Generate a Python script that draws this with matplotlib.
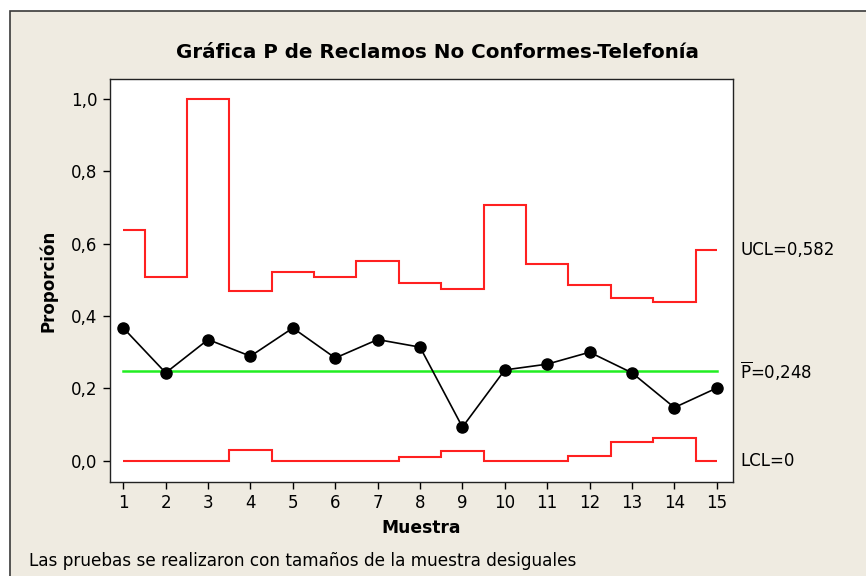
import matplotlib
matplotlib.use("Agg")
import matplotlib.pyplot as plt
from matplotlib.patches import Rectangle
import numpy as np

# ---- data ----
muestras = list(range(1, 16))
proporcion = [0.367, 0.243, 0.335, 0.289, 0.367, 0.284, 0.335, 0.314,
              0.093, 0.251, 0.267, 0.300, 0.243, 0.147, 0.201]
ucl = [0.639, 0.507, 1.000, 0.470, 0.523, 0.507, 0.553, 0.490,
       0.474, 0.706, 0.545, 0.486, 0.449, 0.438, 0.582]
lcl = [0.000, 0.000, 0.000, 0.030, 0.000, 0.000, 0.000, 0.009,
       0.026, 0.000, 0.000, 0.014, 0.051, 0.063, 0.000]
p_bar = 0.248
yticks = [0.0, 0.2, 0.4, 0.6, 0.8, 1.0]
title = "Gráfica P de Reclamos No Conformes-Telefonía"
xlabel = "Muestra"
ylabel = "Proporción"
footnote = "Las pruebas se realizaron con tamaños de la muestra desiguales"

def fmt(v, d):
    return f"{v:.{d}f}".replace(".", ",")

plt.rcParams['font.family'] = ['DejaVu Sans']
W, H = 866, 576
fig = plt.figure(figsize=(W / 100, H / 100), dpi=100)
fig.patch.set_facecolor("white")
bg = "#EFEBE1"
fig.patches.append(Rectangle((10 / W, -0.1), 1.2, 1.1 - 11 / H,
                             transform=fig.transFigure, facecolor=bg,
                             edgecolor="#3a3a3a", lw=1.2, zorder=-10))

ax = fig.add_axes([110 / W, 1 - 481.7 / H, (732.5 - 110) / W, (481.7 - 79.5) / H])
ax.set_facecolor("white")

edges = [muestras[0]] + [m + 0.5 for m in muestras[:-1]] + [muestras[-1]]
ax.stairs(ucl, edges, baseline=None, color="#FF2020", lw=1.5)
ax.stairs(lcl, edges, baseline=None, color="#FF2020", lw=1.5)
ax.plot([muestras[0], muestras[-1]], [p_bar, p_bar], color="#22EE22", lw=1.8)
ax.plot(muestras, proporcion, color="black", lw=1.2, marker="o",
        markersize=8, markerfacecolor="black", markeredgecolor="black")

ax.set_xlim(0.686, 15.371)
ax.set_ylim(-0.058, 1.054)
ax.set_xticks(muestras)
ax.set_xticklabels([str(m) for m in muestras])
ax.set_yticks(yticks)
ax.set_yticklabels([fmt(v, 1) for v in yticks])
ax.tick_params(labelsize=12, length=5, width=1, colors="black", pad=4)
for s in ax.spines.values():
    s.set_linewidth(1.0)
    s.set_color("#222222")

ax.set_xlabel(xlabel, fontsize=12.3, fontweight="bold", labelpad=5)
ax.set_ylabel(ylabel, fontsize=12, fontweight="bold", labelpad=10)

fig.text(438 / W, 1 - 53 / H, title, ha="center", va="center",
         fontsize=14.3, fontweight="bold")
fig.text(29 / W, 1 - 561 / H, footnote, ha="left", va="center", fontsize=12.2)

tr = ax.get_yaxis_transform()
xl = 1 + 7.5 / (732.5 - 110)
ax.text(xl, ucl[-1], "UCL=" + fmt(ucl[-1], 3), transform=tr, ha="left",
        va="center", fontsize=12, clip_on=False)
ax.text(xl, p_bar, r"$\overline{\mathrm{P}}$=" + fmt(p_bar, 3), transform=tr,
        ha="left", va="center", fontsize=12, clip_on=False)
ax.text(xl, lcl[-1], "LCL=" + ("0" if lcl[-1] == 0 else fmt(lcl[-1], 3)),
        transform=tr, ha="left", va="center", fontsize=12, clip_on=False)

fig.savefig("out.png", dpi=100, facecolor=fig.get_facecolor())
